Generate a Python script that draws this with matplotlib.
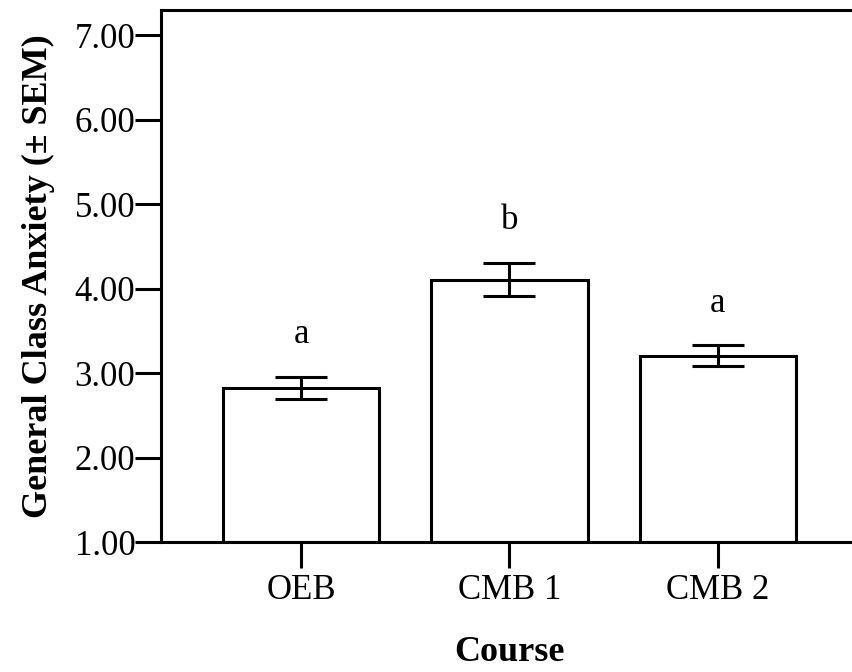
import numpy as np
import matplotlib
matplotlib.use('Agg')
import matplotlib.pyplot as plt

# === DATA ===
courses = ['OEB', 'CMB 1', 'CMB 2']
means = [2.83, 4.11, 3.21]
sem = [0.13, 0.20, 0.12]
letters = ['a', 'b', 'a']
yticks = [1.0, 2.0, 3.0, 4.0, 5.0, 6.0, 7.0]

plt.rcParams['font.family'] = ['Liberation Serif', 'DejaVu Serif']

fig = plt.figure(figsize=(8.52, 6.72), dpi=100)
ax = fig.add_axes([0.189, 0.193, 0.818, 0.792])

x = np.arange(len(courses))
lw = 2.2

ax.bar(x, np.array(means) - 1.0, bottom=1.0, width=0.75, color='white',
       edgecolor='black', linewidth=lw, zorder=2)
ax.errorbar(x, means, yerr=sem, fmt='none', ecolor='black', elinewidth=lw,
            capsize=19, capthick=lw, zorder=3)

# significance letters
for xi, m, s, lab in zip(x, means, sem, letters):
    ax.text(xi, m + s + 0.5, lab, ha='center', va='center', fontsize=25)

ax.set_xlim(-0.672, 2.672)
ax.set_ylim(1.0, 7.30)
ax.set_yticks(yticks)
ax.set_yticklabels([f'{v:.2f}' for v in yticks])
ax.set_xticks(x)
ax.set_xticklabels(courses)

ax.spines['right'].set_visible(False)
for s in ['left', 'top', 'bottom']:
    ax.spines[s].set_linewidth(lw)

ax.tick_params(axis='both', direction='out', length=18.5, width=lw,
               labelsize=25, pad=0)
ax.tick_params(axis='x', pad=4)

ax.set_ylabel('General Class Anxiety (± SEM)', fontsize=26,
              fontweight='bold', labelpad=14)
ax.set_xlabel('Course', fontsize=26, fontweight='bold', labelpad=21)

fig.savefig('out.png', dpi=100)
